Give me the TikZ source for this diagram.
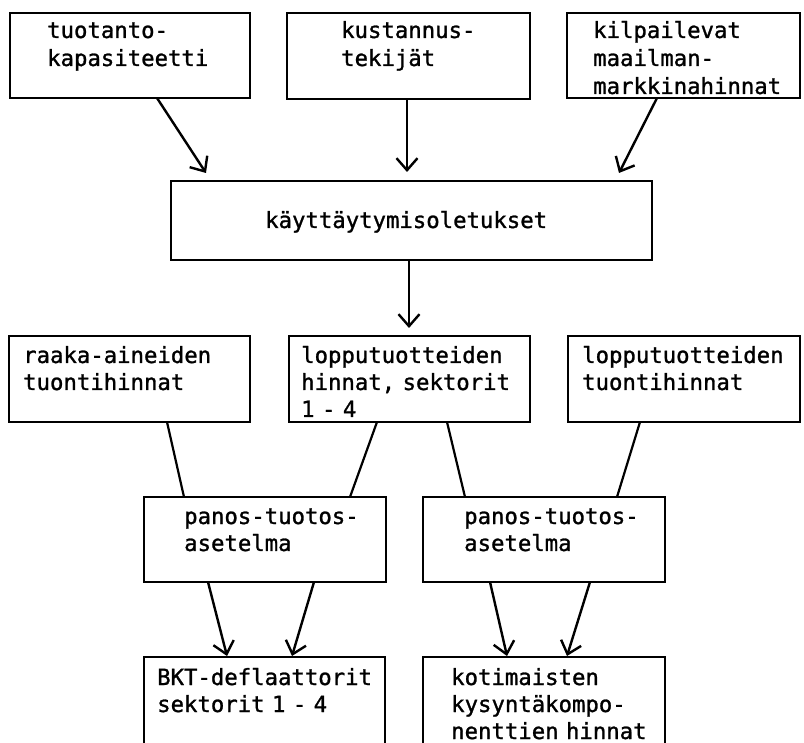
\documentclass[tikz,border=0pt]{standalone}
\usepackage{fontspec}
\newfontfamily\tw{DejaVu Sans Mono}[WordSpace={1,0,0},FakeBold=1.2]
\usetikzlibrary{arrows.meta}
\begin{document}
\begin{tikzpicture}[x=1pt,y=-1pt,
  box/.style={draw, line width=2pt, inner sep=0pt, outer sep=0pt, anchor=north west},
  openbox/.style={inner sep=0pt, outer sep=0pt, anchor=north west},
  frame/.style={line width=2pt},
  txt/.style={anchor=base west, inner sep=0pt, text width=300pt, align=left,
              font=\tw\fontsize{22.3}{27}\selectfont},
  toprow/.style={font=\tw\fontsize{22.3}{28}\selectfont},
  arr/.style={line width=2.4pt, -{Straight Barb[length=12pt,width=21pt]}},
  link/.style={line width=2.2pt}]
\useasboundingbox[fill=white] (0,0) rectangle (804,743);

% top row
\node[box, minimum width=240pt, minimum height=85pt] (b1) at (10,13) {};
\node[box, minimum width=243pt, minimum height=86pt] (b2) at (287,13) {};
\node[box, minimum width=233pt, minimum height=85pt] (b3) at (567,13) {};
\node[txt, toprow] (b1t) at ([xshift=37pt,yshift=-25pt]b1.north west) {tuotanto-\\kapasiteetti};
\node[txt, toprow] (b2t) at ([xshift=54pt,yshift=-25pt]b2.north west) {kustannus-\\tekijät};
\node[txt, toprow] (b3t) at ([xshift=26pt,yshift=-25pt]b3.north west) {kilpailevat\\maailman-\\markkinahinnat};

% behaviour box
\node[box, minimum width=481pt, minimum height=79pt] (m) at (171,181) {};
\node[txt] (mt) at ([xshift=94pt,yshift=-47pt]m.north west) {käyttäytymisoletukset};

% price inputs
\node[box, minimum width=241pt, minimum height=86pt] (r1) at (9,336) {};
\node[box, minimum width=241pt, minimum height=86pt] (r2) at (289,336) {};
\node[box, minimum width=232pt, minimum height=86pt] (r3) at (568,336) {};
\node[txt] (r1t) at ([xshift=14pt,yshift=-27pt]r1.north west) {raaka-aineiden\\tuontihinnat};
\node[txt] (r2t) at ([xshift=12pt,yshift=-27pt]r2.north west) {lopputuotteiden\\hinnat, sektorit\\1 - 4};
\node[txt] (r3t) at ([xshift=14pt,yshift=-27pt]r3.north west) {lopputuotteiden\\tuontihinnat};

% input-output frames
\node[box, minimum width=242pt, minimum height=85pt] (p1) at (144,497) {};
\node[box, minimum width=242pt, minimum height=85pt] (p2) at (423,497) {};
\node[txt] (p1t) at ([xshift=40pt,yshift=-27pt]p1.north west) {panos-tuotos-\\asetelma};
\node[txt] (p2t) at ([xshift=41pt,yshift=-27pt]p2.north west) {panos-tuotos-\\asetelma};

% results (boxes run off the bottom edge)
\node[openbox, minimum width=241pt, minimum height=90pt] (k1) at (144,657) {};
\node[openbox, minimum width=242pt, minimum height=90pt] (k2) at (423,657) {};
\draw[frame] (k1.south west) |- (k1.north east) -- (k1.south east);
\draw[frame] (k2.south west) |- (k2.north east) -- (k2.south east);
\node[txt] (k1t) at ([xshift=13pt,yshift=-28pt]k1.north west) {BKT-deflaattorit\\sektorit 1 - 4};
\node[txt] (k2t) at ([xshift=28pt,yshift=-28pt]k2.north west) {kotimaisten\\kysyntäkompo-\\nenttien hinnat};

% arrows into the behaviour box
\draw[arr] ([xshift=147pt]b1.south west) -- ([xshift=35pt,yshift=8pt]m.north west);
\draw[arr] ([xshift=120pt]b2.south west) -- ([xshift=236pt,yshift=9pt]m.north west);
\draw[arr] ([xshift=90pt]b3.south west) -- ([xshift=448pt,yshift=8pt]m.north west);
\draw[arr] ([xshift=238pt]m.south west) -- ([xshift=120pt,yshift=8pt]r2.north west);

% plain links into the input-output frames
\draw[link] ([xshift=158pt]r1.south west) -- ([xshift=40pt]p1.north west);
\draw[link] ([xshift=88pt]r2.south west) -- ([xshift=206pt]p1.north west);
\draw[link] ([xshift=158pt]r2.south west) -- ([xshift=42pt]p2.north west);
\draw[link] ([xshift=72pt]r3.south west) -- ([xshift=194pt]p2.north west);

% arrows to the results
\draw[arr] ([xshift=64pt]p1.south west) -- ([xshift=83pt,yshift=1pt]k1.north west);
\draw[arr] ([xshift=170pt]p1.south west) -- ([xshift=148pt,yshift=1pt]k1.north west);
\draw[arr] ([xshift=67pt]p2.south west) -- ([xshift=84pt,yshift=1pt]k2.north west);
\draw[arr] ([xshift=167pt]p2.south west) -- ([xshift=144pt,yshift=1pt]k2.north west);
\end{tikzpicture}
\end{document}
